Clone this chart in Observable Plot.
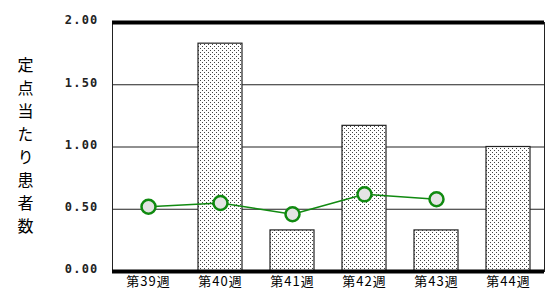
<!DOCTYPE html>
<html>
<head>
<meta charset="utf-8">
<script src="https://cdn.jsdelivr.net/npm/d3@7"></script>
<script src="https://cdn.jsdelivr.net/npm/@observablehq/plot@0.6"></script>
<style>
  html, body { margin: 0; padding: 0; background: #fff; }
</style>
</head>
<body>
<div id="chart"></div>
<script>
const weeks = ["第39週", "第40週", "第41週", "第42週", "第43週", "第44週"];
const barValues = [0, 1.83, 0.33, 1.17, 0.33, 1.00];
const lineWeeks = ["第39週", "第40週", "第41週", "第42週", "第43週"];
const lineValues = [0.52, 0.55, 0.46, 0.62, 0.58];
const yTicks = [0, 0.5, 1, 1.5, 2];
const gridValues = [0.5, 1, 1.5];
const yTitle = "定点当たり患者数";

const bars = weeks.map((w, i) => ({week: w, value: barValues[i]}));
const pts = lineWeeks.map((w, i) => ({week: w, value: lineValues[i]}));

const plot = Plot.plot({
  width: 545,
  height: 291,
  marginLeft: 112,
  marginRight: 1,
  marginTop: 22,
  marginBottom: 20,
  style: {background: "#fff", overflow: "visible"},
  x: {domain: weeks, paddingInner: 0.39, paddingOuter: 0.185, label: null},
  y: {domain: [0, 2], label: null},
  marks: [
    Plot.ruleY(gridValues, {stroke: "#222", strokeWidth: 1.2}),
    Plot.barY(bars, {x: "week", y: "value", fill: "url(#dots)", stroke: "#222", strokeWidth: 1.2}),
    Plot.line(pts, {x: "week", y: "value", stroke: "#108a10", strokeWidth: 1.5}),
    Plot.dot(pts, {x: "week", y: "value", r: 7, fill: "#e4e4e4", stroke: "#108a10", strokeWidth: 2.5}),
    Plot.frame({stroke: "#222", strokeWidth: 1}),
    Plot.ruleX([0], {frameAnchor: "left", stroke: "#000", strokeWidth: 4}),
    Plot.ruleY([0, 2], {stroke: "#000", strokeWidth: 4}),
    Plot.axisY({ticks: yTicks, tickFormat: d3.format(".2f"), tickSize: 0, tickPadding: 14, dy: -2,
      fontSize: 12, fontFamily: "DejaVu Sans Mono", fontWeight: "bold", fill: "#222"}),
    Plot.axisX({tickSize: 0, tickPadding: 5, fontSize: 13, fontFamily: "Noto Sans CJK JP", fill: "#000"}),
    Plot.text([yTitle], {frameAnchor: "left", textAnchor: "middle", dx: -87, dy: -3, fontSize: 16,
      fontFamily: "Noto Sans CJK JP", fill: "#000", text: d => d})
  ]
});

const svg = d3.select(plot);
const defs = svg.insert("defs", ":first-child");
const pat = defs.append("pattern").attr("id", "dots").attr("patternUnits", "userSpaceOnUse")
  .attr("width", 4).attr("height", 4);
pat.append("rect").attr("width", 4).attr("height", 4).attr("fill", "#fff");
pat.append("rect").attr("x", 0).attr("y", 0).attr("width", 1).attr("height", 1).attr("fill", "#444");
pat.append("rect").attr("x", 2).attr("y", 2).attr("width", 1).attr("height", 1).attr("fill", "#444");

// vertical Japanese axis title
svg.selectAll("text").filter(function() { return this.textContent === yTitle; })
  .style("writing-mode", "vertical-rl")
  .style("letter-spacing", "7px");
svg.selectAll("g[aria-label='y-axis tick label'] text").style("letter-spacing", "1.2px");
svg.selectAll("g[aria-label='x-axis tick label'] text").style("letter-spacing", "1px");

document.getElementById("chart").appendChild(plot);
</script>
</body>
</html>
